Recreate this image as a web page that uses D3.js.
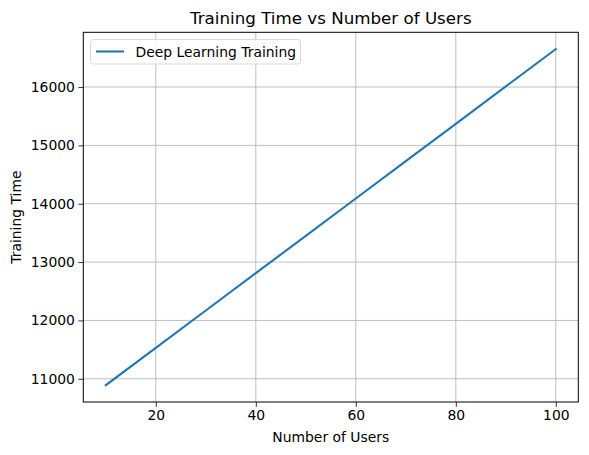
<!DOCTYPE html>
<html>
<head>
<meta charset="utf-8">
<script src="https://cdn.jsdelivr.net/npm/d3@7"></script>
<style>
  body { margin: 0; background: #fff; }
  svg { display: block; font-family: "DejaVu Sans", sans-serif; }
</style>
</head>
<body>
<div id="chart"></div>
<script>
// data
const users = [10, 20, 30, 40, 50, 60, 70, 80, 90, 100];
const trainingTime = [10890, 11530, 12170, 12810, 13450, 14090, 14730, 15370, 16010, 16650];
const xTicks = [20, 40, 60, 80, 100];
const yTicks = [11000, 12000, 13000, 14000, 15000, 16000];
const seriesName = "Deep Learning Training";

const width = 589, height = 455;
const margin = { top: 32.3, right: 10.7, bottom: 53, left: 83.3 };
const iw = width - margin.left - margin.right;
const ih = height - margin.top - margin.bottom;

const svg = d3.select("#chart").append("svg")
  .attr("width", width).attr("height", height);

const g = svg.append("g")
  .attr("transform", "translate(" + margin.left + "," + margin.top + ")");

// matplotlib style 5% margins
const xPad = (d3.max(users) - d3.min(users)) * 0.05;
const yPad = (d3.max(trainingTime) - d3.min(trainingTime)) * 0.05;
const x = d3.scaleLinear()
  .domain([d3.min(users) - xPad, d3.max(users) + xPad])
  .range([0, iw]);
const y = d3.scaleLinear()
  .domain([d3.min(trainingTime) - yPad, d3.max(trainingTime) + yPad])
  .range([ih, 0]);

// grid
g.append("g").selectAll("line").data(xTicks).enter().append("line")
  .attr("x1", d => x(d)).attr("x2", d => x(d))
  .attr("y1", 0).attr("y2", ih)
  .attr("stroke", "#b0b0b0").attr("stroke-width", 0.8);
g.append("g").selectAll("line").data(yTicks).enter().append("line")
  .attr("y1", d => y(d)).attr("y2", d => y(d))
  .attr("x1", 0).attr("x2", iw)
  .attr("stroke", "#b0b0b0").attr("stroke-width", 0.8);

// axes
const xAxis = g.append("g")
  .attr("transform", "translate(0," + ih + ")")
  .call(d3.axisBottom(x).tickValues(xTicks).tickSize(4.9).tickPadding(3.5).tickSizeOuter(0));
const yAxis = g.append("g")
  .call(d3.axisLeft(y).tickValues(yTicks).tickSize(4.9).tickPadding(3.5).tickSizeOuter(0)
    .tickFormat(d3.format("d")));
[xAxis, yAxis].forEach(a => {
  a.select(".domain").remove();
  a.selectAll(".tick line").attr("stroke", "#000").attr("stroke-width", 0.8);
  a.selectAll(".tick text").attr("fill", "#000")
    .style("font-family", "DejaVu Sans").style("font-size", "13.9px");
});

// line
const line = d3.line()
  .x((d, i) => x(users[i]))
  .y(d => y(d));
g.append("path")
  .datum(trainingTime)
  .attr("fill", "none")
  .attr("stroke", "#1f77b4")
  .attr("stroke-width", 2.1)
  .attr("stroke-linecap", "square")
  .attr("d", line);

// frame
g.append("rect")
  .attr("width", iw).attr("height", ih)
  .attr("fill", "none").attr("stroke", "#000").attr("stroke-width", 1);

// title and labels
svg.append("text")
  .attr("x", margin.left + iw / 2).attr("y", 24)
  .attr("text-anchor", "middle")
  .style("font-size", "16.7px")
  .text("Training Time vs Number of Users");
svg.append("text")
  .attr("x", margin.left + iw / 2).attr("y", 442)
  .attr("text-anchor", "middle")
  .style("font-size", "13.9px")
  .text("Number of Users");
svg.append("text")
  .attr("transform", "translate(21," + (margin.top + ih / 2) + ") rotate(-90)")
  .attr("text-anchor", "middle")
  .style("font-size", "13.9px")
  .text("Training Time");

// legend
const lg = svg.append("g").attr("transform", "translate(90.5,39.5)");
lg.append("rect")
  .attr("width", 210).attr("height", 24.5).attr("rx", 3)
  .attr("fill", "#fff").attr("fill-opacity", 0.8)
  .attr("stroke", "#d9d9d9").attr("stroke-width", 1);
lg.append("line")
  .attr("x1", 5.5).attr("x2", 33.5).attr("y1", 12).attr("y2", 12)
  .attr("stroke", "#1f77b4").attr("stroke-width", 2.1);
lg.append("text")
  .attr("x", 45).attr("y", 17)
  .style("font-size", "13.9px")
  .text(seriesName);
</script>
</body>
</html>
